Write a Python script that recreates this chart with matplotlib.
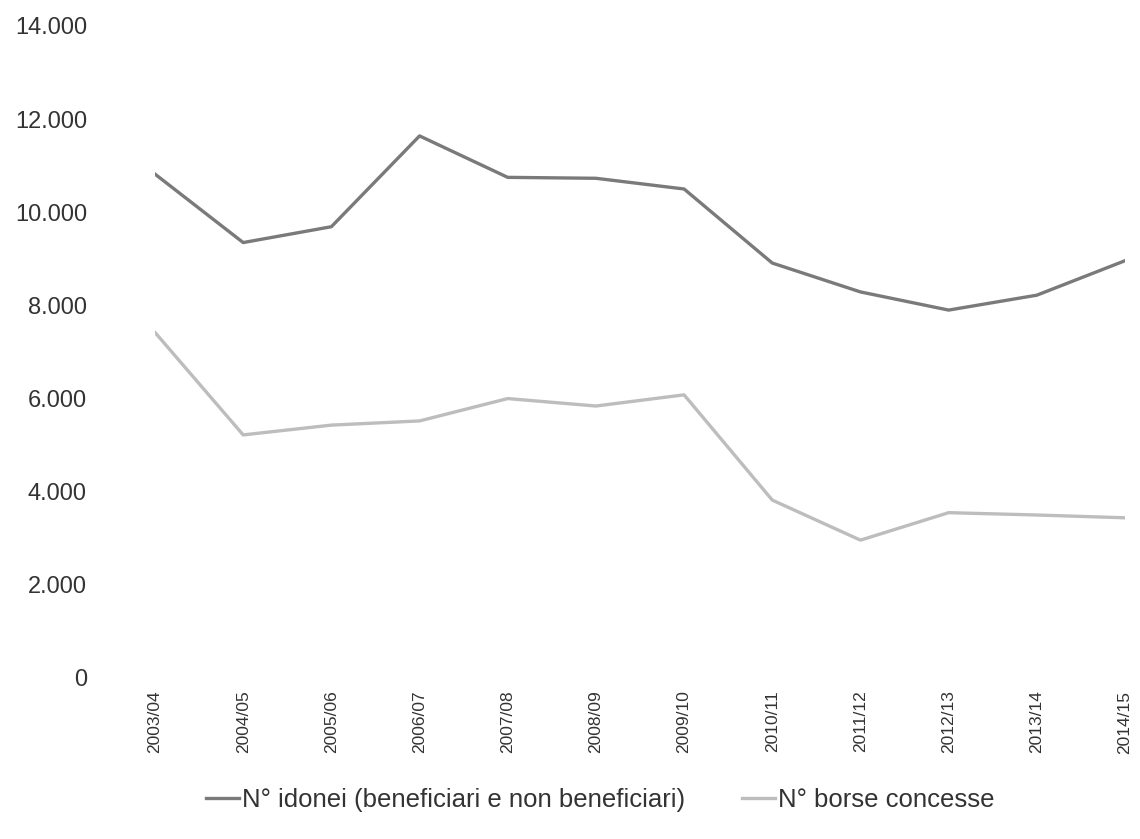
import matplotlib.pyplot as plt
from matplotlib.ticker import FuncFormatter

plt.rcParams['font.family'] = ['Liberation Sans', 'DejaVu Sans']

# academic years on the x axis
years = ["2003/04", "2004/05", "2005/06", "2006/07", "2007/08", "2008/09",
         "2009/10", "2010/11", "2011/12", "2012/13", "2013/14", "2014/15"]
# N° idonei (beneficiari e non beneficiari)
idonei = [10820, 9350, 9690, 11640, 10750, 10730,
          10500, 8910, 8290, 7900, 8220, 8960]
# N° borse concesse
borse = [7420, 5220, 5430, 5520, 6000, 5840,
         6080, 3820, 2960, 3550, 3500, 3440]

c_dark, c_light = "#7a7a7a", "#bdbdbd"

fig = plt.figure(figsize=(11.4, 8.39), dpi=100)
ax = fig.add_axes([155 / 1140, 1 - 678 / 839, 970 / 1140, 652 / 839])

x = list(range(len(years)))
ax.plot(x, idonei, color=c_dark, linewidth=2.4,
        label="N° idonei (beneficiari e non beneficiari)")
ax.plot(x, borse, color=c_light, linewidth=2.4, label="N° borse concesse")

ax.set_xlim(0, len(years) - 1)
ax.set_ylim(0, 14000)
ax.set_yticks(range(0, 14001, 2000))
ax.yaxis.set_major_formatter(FuncFormatter(lambda v, p: f"{int(v):,}".replace(",", ".")))
ax.set_xticks(x)
ax.set_xticklabels(years, rotation=90)

for s in ax.spines.values():
    s.set_visible(False)
ax.tick_params(axis="y", length=0, pad=49, labelsize=17, labelcolor="#333333")
ax.tick_params(axis="x", length=0, pad=9, labelsize=12.5, labelcolor="#333333")

fig.legend(loc="center", bbox_to_anchor=(600 / 1140, 1 - 800 / 839), ncol=2,
           frameon=False, fontsize=18.5, handlelength=1.3, handletextpad=0.1,
           columnspacing=2.2, labelcolor="#333333")

fig.savefig("out.png", dpi=100)
